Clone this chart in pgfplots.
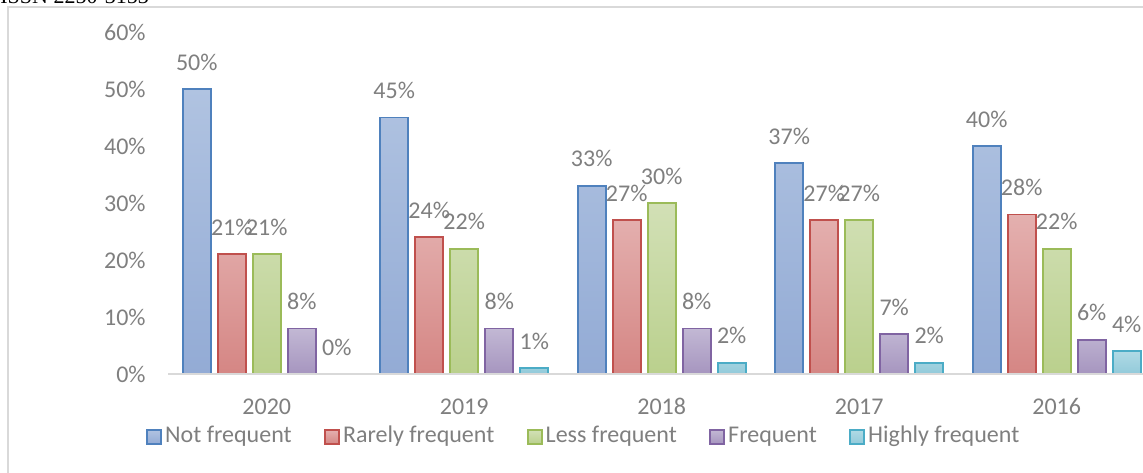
\documentclass[border=0pt]{standalone}
\usepackage{fontspec}
\setmainfont{Carlito}
\newfontfamily\seriffont{Liberation Serif}
\usepackage{pgfplots}
\pgfplotsset{compat=1.18}

\definecolor{txt}{HTML}{7F7F7F}
\definecolor{frame}{HTML}{D9D9D9}
\definecolor{bA}{HTML}{4F81BD}\definecolor{bAt}{HTML}{B0C3E1}\definecolor{bAb}{HTML}{93ABD5}
\definecolor{bB}{HTML}{C0504D}\definecolor{bBt}{HTML}{E4B0AF}\definecolor{bBb}{HTML}{D58684}
\definecolor{bC}{HTML}{9BBB59}\definecolor{bCt}{HTML}{D2E0B6}\definecolor{bCb}{HTML}{BAD08D}
\definecolor{bD}{HTML}{8064A2}\definecolor{bDt}{HTML}{C2B8D4}\definecolor{bDb}{HTML}{A695BF}
\definecolor{bE}{HTML}{4BACC6}\definecolor{bEt}{HTML}{B0DAE5}\definecolor{bEb}{HTML}{92CADA}

\begin{document}
\begin{tikzpicture}
\useasboundingbox (0,0) rectangle (571.5pt,-236pt);
\clip (0,0) rectangle (571.5pt,-236pt);
% page header, cut off at the top
\node[anchor=base west, inner sep=0pt, font=\seriffont\fontsize{11}{13}\selectfont] at (0pt,-1.5pt) {ISSN 2250-3153};
% chart frame
\draw[frame, line width=0.6pt] (4pt,-245pt) -- (4pt,-3.5pt) -- (580pt,-3.5pt);

\begin{axis}[
  at={(84pt,-187pt)}, anchor=south west,
  scale only axis, width=487.5pt, height=171pt,
  xmin=-0.5, xmax=4.437, ymin=0, ymax=60,
  ybar=3.5pt, bar width=14pt,
  axis on top,
  axis lines*=left,
  y axis line style={draw=none},
  x axis line style={draw=frame, line width=1.2pt},
  major tick length=0pt,
  /pgf/number format/assume math mode=true,
  xtick={0,...,4}, xticklabels={2020,2019,2018,2017,2016},
  ytick={0,10,...,60},
  yticklabel={\pgfmathprintnumber{\tick}\%},
  ticklabel style={font=\fontsize{12}{14}\selectfont, text=txt},
  xticklabel style={anchor=base, yshift=-20pt},
  yticklabel style={anchor=east, inner sep=0pt, xshift=-11pt},
  nodes near coords={\pgfmathprintnumber{\pgfplotspointmeta}\%},
  every node near coord/.append style={font=\fontsize{12}{14}\selectfont, text=txt, anchor=base, inner sep=0pt, yshift=9.5pt},
  legend columns=5,
  legend cell align=left,
  legend image code/.code={\draw[#1] (0pt,-3.5pt) rectangle (7pt,3.5pt);},
  legend style={at={(-0.0226,-0.184)}, anchor=west, draw=none, fill=none,
    font=\fontsize{12}{14}\selectfont, text=txt, inner sep=0pt,
    nodes={inner sep=1.5pt, text height=8.5pt, text depth=2.5pt},
    /tikz/every even column/.append style={column sep=14.8pt}},
]
\addplot[draw=bA, line width=0.9pt, top color=bAt, bottom color=bAb] coordinates {(0,50) (1,45) (2,33) (3,37) (4,40)};
\addplot[draw=bB, line width=0.9pt, top color=bBt, bottom color=bBb] coordinates {(0,21) (1,24) (2,27) (3,27) (4,28)};
\addplot[draw=bC, line width=0.9pt, top color=bCt, bottom color=bCb] coordinates {(0,21) (1,22) (2,30) (3,27) (4,22)};
\addplot[draw=bD, line width=0.9pt, top color=bDt, bottom color=bDb] coordinates {(0,8) (1,8) (2,8) (3,7) (4,6)};
\addplot[draw=bE, line width=0.9pt, top color=bEt, bottom color=bEb] coordinates {(0,0) (1,1) (2,2) (3,2) (4,4)};
\legend{Not frequent, Rarely frequent, Less frequent, Frequent, Highly frequent}
\end{axis}
\end{tikzpicture}
\end{document}
